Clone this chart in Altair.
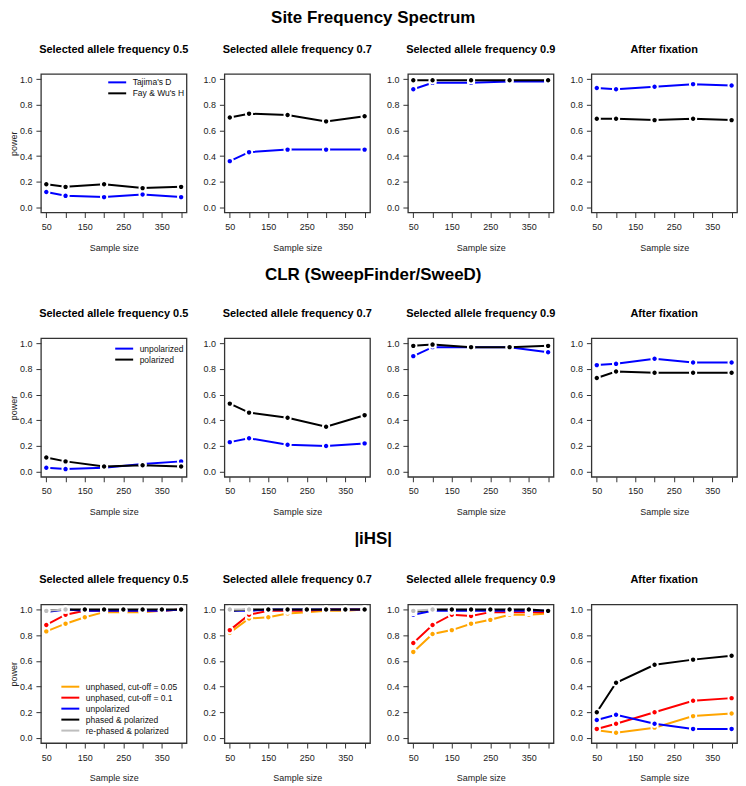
import altair as alt
import pandas as pd

FONT = "Liberation Sans"

# ---------------- data ----------------
x5 = [50, 100, 200, 300, 400]
x8 = [50, 100, 150, 200, 250, 300, 350, 400]
x2 = [50, 100]

section_titles = ["Site Frequency Spectrum", "CLR (SweepFinder/SweeD)", "|iHS|"]
panel_titles = ["Selected allele frequency 0.5", "Selected allele frequency 0.7",
                "Selected allele frequency 0.9", "After fixation"]

# Site Frequency Spectrum
sfs_series = ["Tajima's D", "Fay & Wu's H"]
sfs_colors = ["#0000FF", "#000000"]
sfs_tajima = [[0.12, 0.09, 0.08, 0.10, 0.08],
              [0.36, 0.43, 0.45, 0.45, 0.45],
              [0.92, 0.97, 0.97, 0.98, 0.98],
              [0.93, 0.92, 0.94, 0.96, 0.95]]
sfs_faywu = [[0.18, 0.16, 0.18, 0.15, 0.16],
             [0.70, 0.73, 0.72, 0.67, 0.71],
             [0.99, 0.99, 0.99, 0.99, 0.99],
             [0.69, 0.69, 0.68, 0.69, 0.68]]

# CLR
clr_series = ["unpolarized", "polarized"]
clr_colors = ["#0000FF", "#000000"]
clr_unpol = [[0.03, 0.02, 0.03, 0.06, 0.08],
             [0.23, 0.26, 0.21, 0.20, 0.22],
             [0.90, 0.97, 0.97, 0.97, 0.93],
             [0.83, 0.84, 0.88, 0.85, 0.85]]
clr_pol = [[0.11, 0.08, 0.04, 0.05, 0.04],
           [0.53, 0.46, 0.42, 0.35, 0.44],
           [0.98, 0.99, 0.97, 0.97, 0.98],
           [0.73, 0.78, 0.77, 0.77, 0.77]]

# |iHS|
ihs_series = ["unphased, cut-off = 0.05", "unphased, cut-off = 0.1", "unpolarized",
              "phased & polarized", "re-phased & polarized"]
ihs_colors = ["#FFA500", "#FF0000", "#0000FF", "#000000", "#BEBEBE"]
ihs_x = [x8, x8, x8, x5]
ihs_x_rephased = [x2, x2, x2, []]
ihs_unph05 = [[0.83, 0.89, 0.94, 0.98, 0.98, 0.98, 0.99, 1.00],
              [0.82, 0.93, 0.94, 0.97, 0.98, 0.99, 0.99, 1.00],
              [0.67, 0.81, 0.84, 0.89, 0.92, 0.96, 0.96, 0.97],
              [0.06, 0.04, 0.08, 0.17, 0.19]]
ihs_unph01 = [[0.88, 0.96, 0.99, 0.99, 0.99, 0.99, 0.99, 1.00],
              [0.84, 0.96, 0.99, 0.99, 0.99, 1.00, 1.00, 1.00],
              [0.74, 0.88, 0.96, 0.95, 0.98, 0.98, 0.98, 0.98],
              [0.07, 0.11, 0.20, 0.29, 0.31]]
ihs_unpol = [[0.98, 1.00, 0.99, 0.99, 0.99, 0.99, 0.99, 1.00],
             [0.99, 0.99, 1.00, 1.00, 1.00, 1.00, 1.00, 1.00],
             [0.96, 0.99, 0.99, 0.99, 0.99, 0.99, 0.99, 0.99],
             [0.14, 0.18, 0.11, 0.07, 0.07]]
ihs_phased = [[0.99, 1.00, 1.00, 1.00, 1.00, 1.00, 1.00, 1.00],
              [0.99, 1.00, 1.00, 1.00, 1.00, 1.00, 1.00, 1.00],
              [0.98, 1.00, 1.00, 1.00, 1.00, 1.00, 1.00, 0.99],
              [0.20, 0.43, 0.57, 0.61, 0.64]]
ihs_rephased = [[0.99, 1.00],
                [1.00, 1.00],
                [0.99, 1.00],
                []]

x_ticks = [50, 100, 150, 200, 250, 300, 350, 400]
y_ticks = [0.0, 0.2, 0.4, 0.6, 0.8, 1.0]

# legend placement (relative to each row's first panel)
legend_pos = [(71, 3), (78, 5), (24, 77)]
# gap between section title and panel titles, per row
section_offsets = [16, 24, 26]

W, H = 146, 139


def make_df(xs_list, ys_list, names):
    rows = []
    for xs, ys, name in zip(xs_list, ys_list, names):
        for xv, yv in zip(xs, ys):
            rows.append({"x": xv, "y": yv, "series": name})
    return pd.DataFrame(rows, columns=["x", "y", "series"])


def panel(df, series, colors, title, first, lpos):
    cscale = alt.Scale(domain=series, range=colors)
    xenc = alt.X("x:Q",
                 scale=alt.Scale(domain=[36, 414], nice=False, zero=False),
                 axis=alt.Axis(values=x_ticks, format="d",
                               labelExpr="datum.value % 100 == 50 ? datum.label : ''",
                               title="Sample size"))
    if first:
        yaxis = alt.Axis(values=y_ticks, format=".1f", title="power")
    else:
        yaxis = alt.Axis(values=y_ticks, format=".1f", title=None)
    yenc = alt.Y("y:Q", scale=alt.Scale(domain=[-0.04, 1.04], nice=False, zero=False),
                 axis=yaxis)
    if first:
        legend = alt.Legend(title=None, orient="none", legendX=lpos[0], legendY=lpos[1],
                            symbolType="M-2,0H2", symbolSize=81, symbolStrokeWidth=2,
                            symbolFillColor="transparent",
                            labelFont=FONT, labelFontSize=8.5, labelColor="#111111",
                            labelOffset=10, rowPadding=1, padding=0, labelLimit=300)
        color_line = alt.Color("series:N", scale=cscale, sort=series, legend=legend)
    else:
        color_line = alt.Color("series:N", scale=cscale, sort=series, legend=None)
    color_pt = alt.Color("series:N", scale=cscale, sort=series, legend=None)

    lines = alt.Chart(df).mark_line(strokeWidth=2, clip=True).encode(
        x=xenc, y=yenc, color=color_line)
    points = alt.Chart(df).mark_circle(size=40, opacity=1, stroke="white",
                                       strokeWidth=1.9, clip=True).encode(
        x=xenc, y=yenc, color=color_pt)
    return alt.layer(lines, points).properties(
        width=W, height=H,
        title=alt.TitleParams(title, font=FONT, fontSize=11, fontWeight="bold",
                              offset=19, color="#000000"))


rows = []
for r in range(3):
    panels = []
    for p in range(4):
        if r == 0:
            df = make_df([x5, x5], [sfs_tajima[p], sfs_faywu[p]], sfs_series)
            series, colors = sfs_series, sfs_colors
        elif r == 1:
            df = make_df([x5, x5], [clr_unpol[p], clr_pol[p]], clr_series)
            series, colors = clr_series, clr_colors
        else:
            df = make_df([ihs_x[p], ihs_x[p], ihs_x[p], ihs_x[p], ihs_x_rephased[p]],
                         [ihs_unph05[p], ihs_unph01[p], ihs_unpol[p], ihs_phased[p], ihs_rephased[p]],
                         ihs_series)
            series, colors = ihs_series, ihs_colors
        panels.append(panel(df, series, colors, panel_titles[p], p == 0, legend_pos[r]))
    row = alt.hconcat(*panels, spacing=38, bounds="flush").resolve_scale(
        color="independent").properties(
        title=alt.TitleParams(section_titles[r], font=FONT, fontSize=17, fontWeight="bold",
                              offset=section_offsets[r], anchor="middle", color="#000000"))
    rows.append(row)

chart = alt.vconcat(*rows, spacing=12).resolve_scale(color="independent").properties(
    padding=0
).configure_view(
    stroke="#333333", strokeWidth=1.3
).configure_axis(
    labelFont=FONT, titleFont=FONT, labelFontSize=9, titleFontSize=9,
    titleFontWeight="normal", labelColor="#222222", titleColor="#222222",
    tickColor="#333333", tickSize=5, domain=False, grid=False
).configure_axisX(
    labelPadding=5, titlePadding=12
).configure_axisY(
    labelPadding=4, titlePadding=1
)

chart.save("out.html", embed_options={"renderer": "svg", "actions": False})
